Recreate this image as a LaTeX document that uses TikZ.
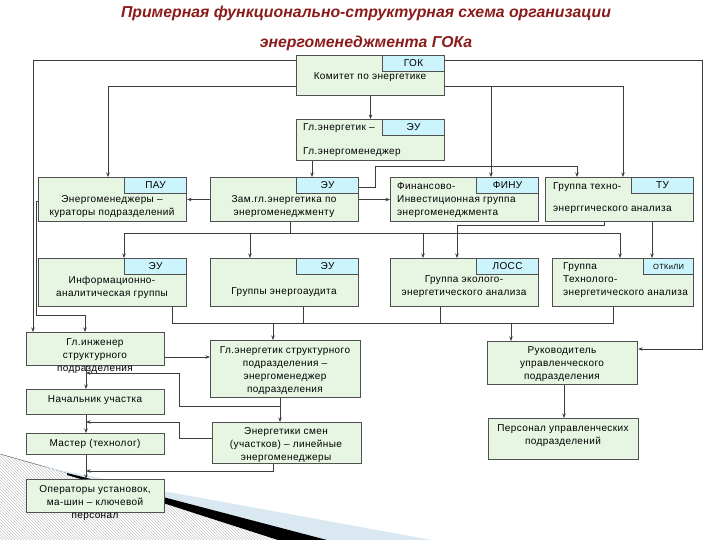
\documentclass[tikz,border=0pt]{standalone}
\usepackage{fontspec}
\setmainfont{Liberation Sans}
\newfontfamily\boxfont[LetterSpace=4]{Liberation Sans}
\usetikzlibrary{arrows.meta,patterns,positioning}

\definecolor{boxfill}{RGB}{230,246,226}
\definecolor{tagfill}{RGB}{204,244,252}
\definecolor{boxline}{RGB}{80,80,80}
\definecolor{linkcol}{RGB}{60,60,60}
\definecolor{titlered}{RGB}{139,26,26}
\definecolor{swooshblue}{RGB}{218,232,242}

\tikzset{
    box/.style={draw=boxline, fill=boxfill, line width=1.1pt, anchor=north west, inner sep=0pt},
    tag/.style={draw=boxline, fill=tagfill, line width=1.1pt, anchor=north east, inner sep=0pt,
        minimum width=62pt, minimum height=16pt, font=\boxfont\fontsize{10}{12}\selectfont},
    txt/.style={align=center, inner sep=0pt, font=\boxfont\fontsize{10}{13}\selectfont},
    ltxt/.style={txt, align=left, anchor=west},
    link/.style={draw=linkcol, line width=1pt},
    arr/.style={link, -{Stealth[length=4.5pt,width=3.5pt]}},
    title/.style={font=\bfseries\itshape\fontsize{15.8}{18}\selectfont, text=titlered, inner sep=0pt}
}

\begin{document}
\begin{tikzpicture}[x=1pt, y=-1pt]
    \useasboundingbox (0,0) rectangle (720,540);

    % Swoosh in the corner
    \fill[pattern=north west lines, pattern color=gray!45] (0,454) -- (67,473) -- (163,502) -- (280,540) -- (0,540) -- cycle;
    \draw[gray!60!black, thin] (0,454) -- (67,473);
    \fill[swooshblue] (40,466) -- (163,491) -- (432,540) -- (327,540) -- (163,497) -- (67,473) -- cycle;
    \fill[black] (67,473) -- (163,497) -- (327,540) -- (278,540) -- (163,503) -- (67,475) -- cycle;

    % Title
    \node[title] (ttl1) at (366,13) {Примерная функционально-структурная схема организации};
    \node[title] (ttl2) at (366,43) {энергоменеджмента ГОКа};

    % Boxes
    \node[box, minimum width=148pt, minimum height=40pt] (gok) at (296,55) {};
    \node[box, minimum width=148pt, minimum height=41pt] (glen) at (296,119) {};
    \node[box, minimum width=148pt, minimum height=44pt] (pau) at (38,177) {};
    \node[box, minimum width=148pt, minimum height=44pt] (zam) at (210,177) {};
    \node[box, minimum width=148pt, minimum height=44pt] (finu) at (390,177) {};
    \node[box, minimum width=148pt, minimum height=44pt] (tu) at (545,177) {};
    \node[box, minimum width=148pt, minimum height=48pt] (info) at (38,258) {};
    \node[box, minimum width=148pt, minimum height=48pt] (audit) at (210,258) {};
    \node[box, minimum width=148pt, minimum height=48pt] (loss) at (390,258) {};
    \node[box, minimum width=141pt, minimum height=48pt] (otk) at (552,258) {};
    \node[box, minimum width=138pt, minimum height=33pt] (gling) at (26,332) {};
    \node[box, minimum width=150pt, minimum height=57pt] (glstr) at (210,340) {};
    \node[box, minimum width=150pt, minimum height=43pt] (ruk) at (487,341) {};
    \node[box, minimum width=150pt, minimum height=41pt] (pers) at (488,418) {};
    \node[box, minimum width=138pt, minimum height=25pt] (nach) at (26,389) {};
    \node[box, minimum width=149pt, minimum height=41pt] (energ) at (212,422) {};
    \node[box, minimum width=138pt, minimum height=21pt] (master) at (26,433) {};
    \node[box, minimum width=138pt, minimum height=33pt] (oper) at (26,479) {};

    % Tags
    \node[tag] (gokT) at (gok.north east) {ГОК};
    \node[tag] (glenT) at (glen.north east) {ЭУ};
    \node[tag] (pauT) at (pau.north east) {ПАУ};
    \node[tag] (zamT) at (zam.north east) {ЭУ};
    \node[tag] (finuT) at (finu.north east) {ФИНУ};
    \node[tag] (tuT) at (tu.north east) {ТУ};
    \node[tag] (infoT) at (info.north east) {ЭУ};
    \node[tag] (auditT) at (audit.north east) {ЭУ};
    \node[tag] (lossT) at (loss.north east) {ЛОСС};
    \node[tag, minimum width=50pt, font=\boxfont\fontsize{7.5}{9}\selectfont] (otkT) at (otk.north east) {ОТКиЛИ};

    % Texts
    \node[txt] (gokX) at (370,77) {Комитет по энергетике};
    \node[ltxt] (glenA) at (303,128) {Гл.энергетик –};
    \node[ltxt] (glenB) at (303,152) {Гл.энергоменеджер};
    \node[txt] (pauX) at (112,207) {Энергоменеджеры –\\кураторы подразделений};
    \node[txt] (zamX) at (284,207) {Зам.гл.энергетика по\\энергоменеджменту};
    \node[ltxt] (finuX) at (397,200) {Финансово-\\Инвестиционная группа\\энергоменеджмента};
    \node[ltxt] (tuA) at (553,187) {Группа техно-};
    \node[ltxt] (tuB) at (553,210) {энерггического анализа};
    \node[txt] (infoX) at (112,287) {Информационно-\\аналитическая группы};
    \node[txt] (auditX) at (284,292) {Группы энергоаудита};
    \node[txt] (lossX) at (464,287) {Группа эколого-\\энергетического анализа};
    \node[ltxt] (otkX) at (563,280) {Группа\\Технолого-\\энергетического анализа};
    \node[txt] (glingX) at (95,356) {Гл.инженер\\структурного\\подразделения};
    \node[txt] (glstrX) at (285,371) {Гл.энергетик структурного\\подразделения –\\энергоменеджер\\подразделения};
    \node[txt] (rukX) at (562,364) {Руководитель\\управленческого\\подразделения};
    \node[txt] (persX) at (563,436) {Персонал управленческих\\подразделений};
    \node[txt] (nachX) at (95,400) {Начальник участка};
    \node[txt] (energX) at (286,445) {Энергетики смен\\(участков) – линейные\\энергоменеджеры};
    \node[txt] (masterX) at (95,444) {Мастер (технолог)};
    \node[txt] (operX) at (95,503) {Операторы установок,\\ма-шин – ключевой\\персонал};

    % Bends
    \coordinate (oL) at (33,61);
    \coordinate (oR) at (702,61);
    \coordinate (oRb) at (702,349);
    \coordinate (iL) at (108,87);
    \coordinate (iR) at (623,87);
    \coordinate (iF) at (491,87);
    \coordinate (gx) at (312,170);
    \coordinate (zt1) at (375,188);
    \coordinate (zt2) at (375,167);
    \coordinate (zt3) at (577,167);
    \coordinate (b1) at (290,233);
    \coordinate (b1L) at (124,233);
    \coordinate (b1a) at (250,233);
    \coordinate (b1b) at (423,233);
    \coordinate (b1R) at (620,233);
    \coordinate (t1) at (604,226);
    \coordinate (t2) at (457,226);
    \coordinate (t3) at (652,226);
    \coordinate (p1) at (36,202);
    \coordinate (p2) at (36,315);
    \coordinate (p3) at (85,315);
    \coordinate (c1) at (172,323);
    \coordinate (c2) at (303,323);
    \coordinate (c3) at (440,323);
    \coordinate (c4) at (613,323);
    \coordinate (c5) at (273,323);
    \coordinate (c6) at (511,323);
    \coordinate (g1) at (164,357);
    \coordinate (lx) at (86,400);
    \coordinate (s1) at (280,406);
    \coordinate (s2) at (179,406);
    \coordinate (s3) at (179,373);
    \coordinate (e1) at (179,438);
    \coordinate (e2) at (179,422);
    \coordinate (e3) at (273,471);
    \coordinate (r1) at (564,400);

    % Top level
    \draw[arr] (gok.west |- oL) -- (oL) -- (oL |- gling.north);
    \draw[arr] (gok.east |- oR) -- (oR) -- (oRb) -- (ruk.east |- oRb);
    \draw[arr] (gok.west |- iL) -- (iL) -- (iL |- pau.north);
    \draw[arr] (gok.east |- iR) -- (iR) -- (iR |- tu.north);
    \draw[arr] (iF) -- (iF |- finu.north);
    \draw[arr] (gok.south) -- (glen.north);
    \draw[arr] (glen.south -| gx) -- (zam.north -| gx);

    % Second row
    \draw[arr] (zam.west) -- (pau.east);
    \draw[arr] (zam.east) -- (finu.west);
    \draw[arr] (zam.east |- zt1) -- (zt1) -- (zt2) -- (zt3) -- (zt3 |- tu.north);
    \draw[link] (zam.south -| b1) -- (b1);
    \draw[link] (b1L) -- (b1R);
    \draw[arr] (b1L) -- (b1L |- info.north);
    \draw[arr] (b1a) -- (b1a |- audit.north);
    \draw[arr] (b1b) -- (b1b |- loss.north);
    \draw[arr] (b1R) -- (b1R |- otk.north);
    \draw[arr] (tu.south -| t1) -- (t1) -- (t2) -- (t2 |- loss.north);
    \draw[arr] (tu.south -| t3) -- (t3 |- otk.north);
    \draw[arr] (pau.west |- p1) -- (p1) -- (p2) -- (p3) -- (p3 |- gling.north);

    % Third row
    \draw[link] (info.south -| c1) -- (c1) -- (c4) -- (otk.south -| c4);
    \draw[link] (audit.south -| c2) -- (c2);
    \draw[link] (loss.south -| c3) -- (c3);
    \draw[arr] (c5) -- (c5 |- glstr.north);
    \draw[arr] (c6) -- (c6 |- ruk.north);

    % Structural unit
    \draw[arr] (gling.east |- g1) -- (glstr.west |- g1);
    \draw[arr] (gling.south -| lx) -- (nach.north -| lx);
    \draw[arr] (glstr.south -| s1) -- (energ.north -| s1);
    \draw[arr] (s1) -- (s2) -- (s3) -- (s3 -| lx);
    \draw[arr] (nach.south -| lx) -- (master.north -| lx);
    \draw[arr] (energ.west |- e1) -- (e1) -- (e2) -- (e2 -| lx);
    \draw[arr] (master.south -| lx) -- (oper.north -| lx);
    \draw[arr] (energ.south -| e3) -- (e3) -- (e3 -| lx);
    \draw[arr] (ruk.south -| r1) -- (pers.north -| r1);
\end{tikzpicture}
\end{document}
